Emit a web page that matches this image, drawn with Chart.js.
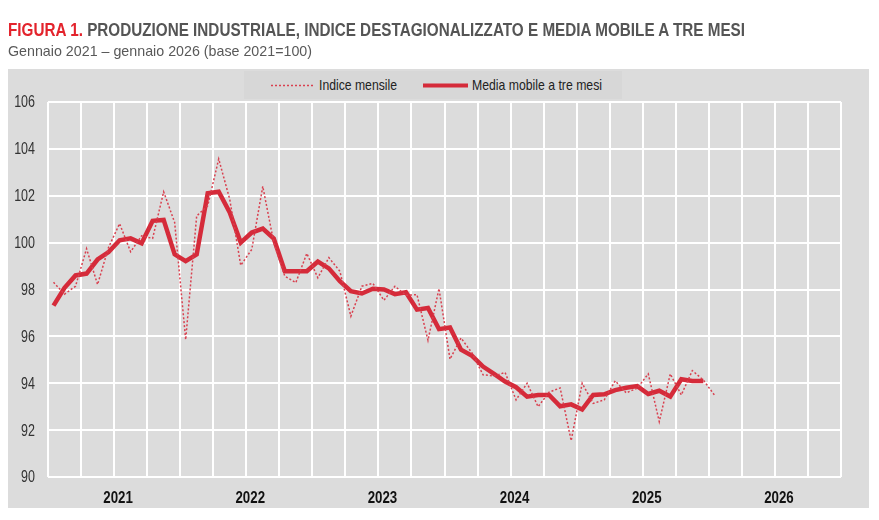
<!DOCTYPE html>
<html lang="it">
<head>
<meta charset="utf-8">
<script src="https://cdn.jsdelivr.net/npm/chart.js@4.4.1/dist/chart.umd.min.js"></script>
<style>
  html, body { margin: 0; padding: 0; background: #ffffff; }
  body { width: 879px; height: 520px; position: relative; overflow: hidden;
         font-family: "Liberation Sans", Arial, sans-serif; }
  #wrap { position: absolute; left: 0; top: 0; width: 879px; height: 520px; }
  .fit { position: absolute; display: inline-block; white-space: nowrap; transform-origin: 0 0; }
  #title { left: 8px; top: 21px; font-size: 18px; line-height: 18px; font-weight: bold; color: #555555; }
  #title .fig { color: #e3232c; }
  #subtitle { left: 8px; top: 43px; font-size: 15px; line-height: 15px; color: #595959; }
  #legend { position: absolute; left: 244px; top: 71px; width: 378px; height: 28px; background: #d7d7d7; }
  #legend svg { position: absolute; left: 0; top: 0; }
  #legend .fit { top: 6px; font-size: 15px; line-height: 15px; color: #222222; }
</style>
</head>
<body>
<div id="wrap"><canvas id="c"></canvas></div>
<div id="title" class="fit" data-w="737"><span class="fig">FIGURA 1.</span> PRODUZIONE INDUSTRIALE, INDICE DESTAGIONALIZZATO E MEDIA MOBILE A TRE MESI</div>
<div id="subtitle" class="fit" data-w="304">Gennaio 2021 – gennaio 2026 (base 2021=100)</div>
<div id="legend">
  <svg width="378" height="28">
    <line x1="27" y1="14.5" x2="70" y2="14.5" stroke="#d9404f" stroke-width="1.5" stroke-dasharray="2,2"/>
    <line x1="179" y1="14.5" x2="224" y2="14.5" stroke="#d52b3a" stroke-width="4"/>
  </svg>
  <span class="fit" data-w="78" style="left:75px">Indice mensile</span>
  <span class="fit" data-w="130" style="left:228px">Media mobile a tre mesi</span>
</div>
<script>
// ---- data ----
const years = ['2021', '2022', '2023', '2024', '2025', '2026'];
const monthsPerYear = 12;
// Monthly seasonally adjusted index, Jan 2021 .. Jan 2026
const indiceMensile = [
  98.31, 97.80, 98.14, 99.74, 98.21, 99.80, 100.81, 99.61, 100.29, 100.18, 102.17, 100.86,
  95.86, 101.14, 101.57, 103.57, 101.85, 99.03, 99.71, 102.40, 100.00, 98.57, 98.29, 99.54,
  98.50, 99.36, 98.78, 96.86, 98.14, 98.26, 97.54, 98.14, 97.75, 97.78, 95.83, 98.04,
  95.03, 95.93, 95.29, 94.36, 94.31, 94.46, 93.29, 94.00, 93.00, 93.62, 93.80, 91.55,
  94.00, 93.14, 93.29, 94.10, 93.59, 93.79, 94.40, 92.36, 94.40, 93.50, 94.54, 94.14,
  93.50
];
// Three-month moving average, Jan 2021 .. Dec 2025
const mediaMobile = [
  97.31, 98.07, 98.60, 98.68, 99.28, 99.60, 100.10, 100.18, 99.97, 100.93, 100.97, 99.50,
  99.21, 99.50, 102.11, 102.17, 101.29, 100.00, 100.43, 100.60, 100.17, 98.78, 98.78, 98.78,
  99.19, 98.90, 98.35, 97.93, 97.83, 98.03, 98.00, 97.80, 97.88, 97.14, 97.21, 96.31,
  96.38, 95.43, 95.17, 94.71, 94.40, 94.07, 93.83, 93.43, 93.50, 93.50, 93.02, 93.10,
  92.88, 93.50, 93.53, 93.71, 93.81, 93.88, 93.54, 93.68, 93.43, 94.17, 94.10, 94.10
];
const yTicks = [90, 92, 94, 96, 98, 100, 102, 104, 106];
const seriesNames = ['Indice mensile', 'Media mobile a tre mesi'];

// ---- narrow-looking HTML text ----
document.querySelectorAll('.fit').forEach(el => {
  const w = el.getBoundingClientRect().width;
  el.style.transform = 'scaleX(' + (parseFloat(el.dataset.w) / w) + ')';
});

// ---- build ----
const totalMonths = years.length * monthsPerYear;
const toPoints = arr => arr.map((v, i) => ({ x: i, y: v }));
const FONT = "'Liberation Sans', Arial, sans-serif";

const panelPlugin = {
  id: 'panel',
  beforeDraw(chart) {
    const ctx = chart.ctx;
    ctx.save();
    ctx.fillStyle = '#dcdcdc';
    ctx.fillRect(8, 69, 861, 439);
    ctx.restore();
  }
};

// Condensed axis labels, positioned through the chart's own scales
const axisLabelPlugin = {
  id: 'axisLabels',
  afterDraw(chart) {
    const ctx = chart.ctx;
    const xs = chart.scales.x, ys = chart.scales.y;
    ctx.save();
    ctx.textBaseline = 'middle';
    // y labels
    ctx.fillStyle = '#333333';
    ctx.font = '16px ' + FONT;
    ctx.textAlign = 'right';
    ys.ticks.forEach(t => {
      const py = ys.getPixelForValue(t.value) + 1;
      ctx.save();
      ctx.translate(ys.right - 13, py);
      ctx.scale(0.78, 1);
      ctx.fillText(String(t.value), 0, 0);
      ctx.restore();
    });
    // x labels (years)
    ctx.fillStyle = '#111111';
    ctx.font = 'bold 16px ' + FONT;
    ctx.textAlign = 'center';
    years.forEach((yr, i) => {
      const px = xs.getPixelForValue(i * monthsPerYear + monthsPerYear / 2 - 0.5) + 4;
      ctx.save();
      ctx.translate(px, xs.top + 22);
      ctx.scale(0.83, 1);
      ctx.fillText(yr, 0, 0);
      ctx.restore();
    });
    ctx.restore();
  }
};

new Chart(document.getElementById('c'), {
  type: 'line',
  data: {
    datasets: [
      {
        label: seriesNames[0],
        data: toPoints(indiceMensile),
        borderColor: '#d9404f',
        borderWidth: 1.5,
        borderDash: [2, 2],
        pointRadius: 0,
        tension: 0,
        fill: false
      },
      {
        label: seriesNames[1],
        data: toPoints(mediaMobile),
        borderColor: '#d52b3a',
        borderWidth: 4.5,
        borderJoinStyle: 'miter',
        pointRadius: 0,
        tension: 0,
        fill: false
      }
    ]
  },
  options: {
    responsive: true,
    maintainAspectRatio: false,
    animation: false,
    events: [],
    layout: { padding: { top: 102, right: 38, bottom: 12, left: 0 } },
    plugins: {
      legend: { display: false },
      title: { display: false },
      tooltip: { enabled: false }
    },
    scales: {
      x: {
        type: 'linear',
        min: -0.5,
        max: totalMonths - 0.5,
        afterBuildTicks(scale) {
          const t = [];
          for (let v = -0.5; v <= totalMonths - 0.5 + 1e-9; v += 3) t.push({ value: v });
          scale.ticks = t;
        },
        afterFit(scale) { scale.height = 31; },
        grid: { color: '#ffffff', lineWidth: 2, drawTicks: false },
        border: { display: false },
        ticks: { display: false }
      },
      y: {
        min: yTicks[0],
        max: yTicks[yTicks.length - 1],
        afterBuildTicks(scale) { scale.ticks = yTicks.map(v => ({ value: v })); },
        afterFit(scale) { scale.width = 48; },
        grid: { color: '#ffffff', lineWidth: 2, drawTicks: false },
        border: { display: false },
        ticks: { display: false }
      }
    }
  },
  plugins: [panelPlugin, axisLabelPlugin]
});
</script>
</body>
</html>
